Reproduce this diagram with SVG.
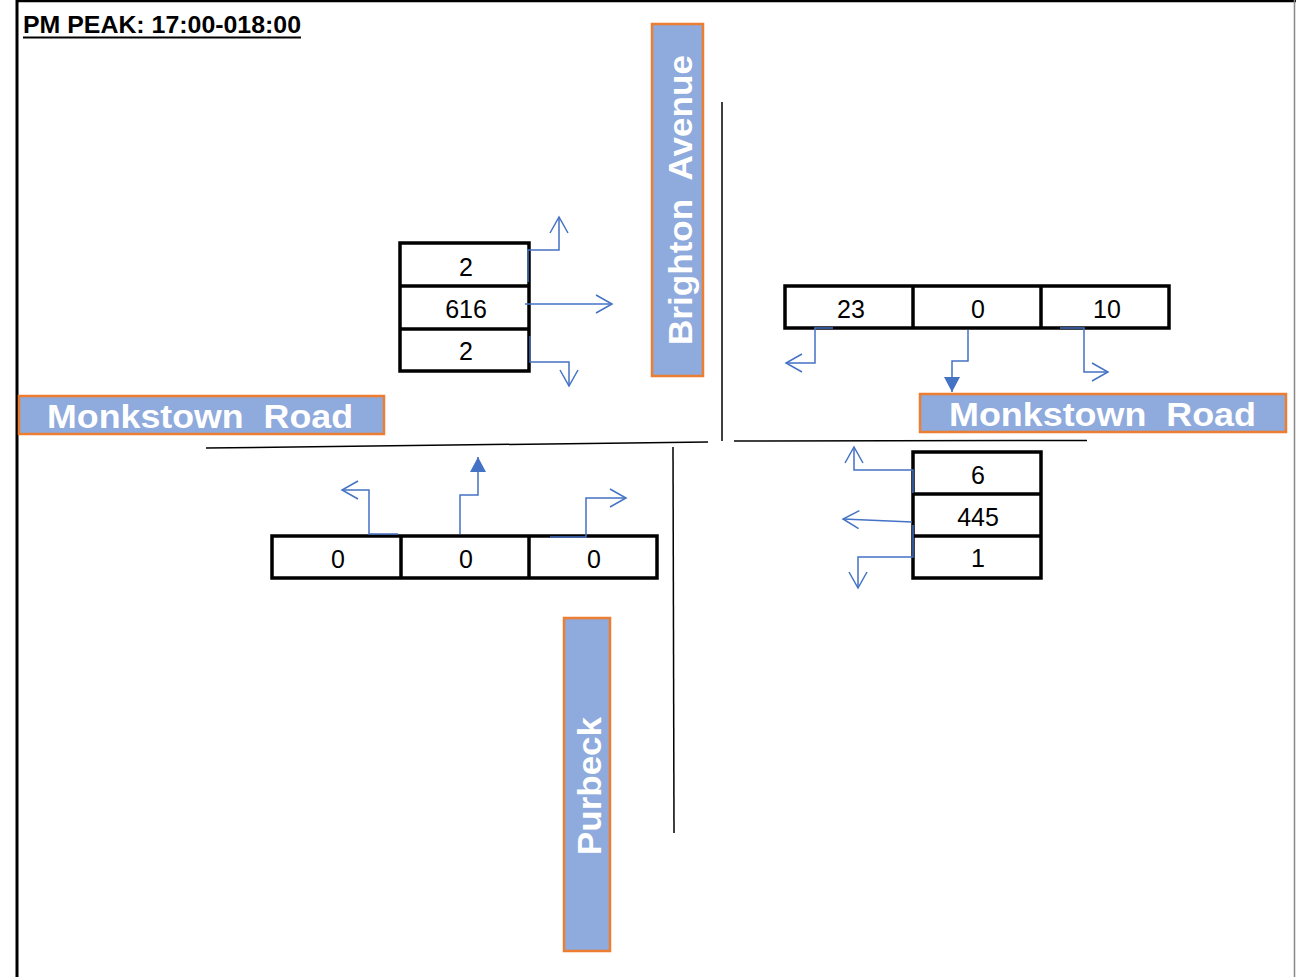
<svg xmlns="http://www.w3.org/2000/svg" width="1296" height="977" viewBox="0 0 1296 977">
<style>
.frame{stroke:#000;fill:none}
.road{stroke:#000;stroke-width:1.5;fill:none}
.lbl{fill:#8FAADC;stroke:#ED7D31;stroke-width:2.5}
.lt{font-family:"Liberation Sans",Arial,sans-serif;font-weight:bold;fill:#fff;font-size:34px;white-space:pre}
.cell{fill:#fff;stroke:#000;stroke-width:3.5}
.num{font-family:"Liberation Sans",Arial,sans-serif;font-size:25px;fill:#000;text-anchor:middle}
.c{fill:none;stroke:#4472C4;stroke-width:1.5}
.o{marker-end:url(#open)}
.f{marker-end:url(#fill)}
</style>
<defs>
<marker id="open" viewBox="0 0 20 20" refX="18" refY="10" markerWidth="20" markerHeight="20" markerUnits="userSpaceOnUse" orient="auto">
<path d="M2,1 L18,10 L2,19" fill="none" stroke="#4472C4" stroke-width="1.5"/>
</marker>
<marker id="fill" viewBox="0 0 16 20" refX="15" refY="10" markerWidth="16" markerHeight="20" markerUnits="userSpaceOnUse" orient="auto">
<path d="M0,2 L15,10 L0,18 Z" fill="#4472C4"/>
</marker>
</defs>
<rect width="1296" height="977" fill="#fff"/>
<g id="frame">
<line class="frame" x1="17" y1="0" x2="17" y2="977" stroke-width="3"/>
<line class="frame" x1="16" y1="1" x2="1296" y2="1" stroke-width="2.5"/>
<line x1="1294.5" y1="0" x2="1294.5" y2="977" stroke="#888" stroke-width="1.5"/>
</g>
<g id="title">
<text x="23" y="33" font-family="'Liberation Sans',Arial,sans-serif" font-weight="bold" font-size="24" textLength="278" lengthAdjust="spacingAndGlyphs" fill="#000">PM PEAK: 17:00-018:00</text>
<line x1="23" y1="37.5" x2="301" y2="37.5" stroke="#000" stroke-width="2"/>
</g>
<g id="roads">
<line class="road" x1="722" y1="102" x2="722" y2="441"/>
<line class="road" x1="206" y1="448" x2="708" y2="442"/>
<line class="road" x1="734" y1="441" x2="1087" y2="440.5"/>
<line class="road" x1="673" y1="447" x2="674" y2="833"/>
</g>
<g id="label-brighton">
<rect class="lbl" x="652" y="24" width="51" height="352"/>
<text class="lt" transform="translate(692,200) rotate(-90)" text-anchor="middle" font-size="36" textLength="290" lengthAdjust="spacingAndGlyphs">Brighton  Avenue</text>
</g>
<g id="label-monkstown-west">
<rect class="lbl" x="19" y="396" width="365" height="38"/>
<text class="lt" x="200" y="428" text-anchor="middle" textLength="306" lengthAdjust="spacingAndGlyphs">Monkstown  Road</text>
</g>
<g id="label-monkstown-east">
<rect class="lbl" x="920" y="394" width="366" height="38"/>
<text class="lt" x="1102.5" y="426" text-anchor="middle" textLength="307" lengthAdjust="spacingAndGlyphs">Monkstown  Road</text>
</g>
<g id="label-purbeck">
<rect class="lbl" x="564" y="618" width="46" height="333"/>
<text class="lt" transform="translate(601,786) rotate(-90)" text-anchor="middle" font-size="36" textLength="138" lengthAdjust="spacingAndGlyphs">Purbeck</text>
</g>
<g id="table-west">
<rect class="cell" x="400" y="243" width="129" height="128"/>
<line class="cell" x1="400" y1="286" x2="529" y2="286"/>
<line class="cell" x1="400" y1="329" x2="529" y2="329"/>
<text class="num" x="466" y="276">2</text>
<text class="num" x="466" y="318">616</text>
<text class="num" x="466" y="360">2</text>
</g>
<g id="table-north">
<rect class="cell" x="785" y="286" width="384" height="42"/>
<line class="cell" x1="913" y1="286" x2="913" y2="328"/>
<line class="cell" x1="1041" y1="286" x2="1041" y2="328"/>
<text class="num" x="851" y="318">23</text>
<text class="num" x="978" y="318">0</text>
<text class="num" x="1107" y="318">10</text>
</g>
<g id="table-east">
<rect class="cell" x="913" y="452" width="128" height="126"/>
<line class="cell" x1="913" y1="494" x2="1041" y2="494"/>
<line class="cell" x1="913" y1="536" x2="1041" y2="536"/>
<text class="num" x="978" y="484">6</text>
<text class="num" x="978" y="526">445</text>
<text class="num" x="978" y="567">1</text>
</g>
<g id="table-south">
<rect class="cell" x="272" y="536" width="385" height="42"/>
<line class="cell" x1="401" y1="536" x2="401" y2="578"/>
<line class="cell" x1="529" y1="536" x2="529" y2="578"/>
<text class="num" x="338" y="568">0</text>
<text class="num" x="466" y="568">0</text>
<text class="num" x="594" y="568">0</text>
</g>
<g id="connectors">
<polyline class="c o" points="528,282 528,250 559,250 559,217"/>
<polyline class="c o" points="525,304 612,304"/>
<polyline class="c o" points="530,336 530,362 569,362 569,386"/>
<polyline class="c o" points="833,328 815,328 815,363 786,363"/>
<polyline class="c f" points="968,330 968,361 952,361 952,392"/>
<polyline class="c o" points="1060,328 1084,328 1084,372 1108,372"/>
<polyline class="c o" points="913,493 913,470 854,470 854,447"/>
<polyline class="c o" points="912,522 843,519"/>
<polyline class="c o" points="913,525 913,557 858,557 858,588"/>
<polyline class="c o" points="398,534 369,534 369,490 342,490"/>
<polyline class="c f" points="460,534 460,495 478,495 478,457"/>
<polyline class="c o" points="550,537 586,537 586,498 626,498"/>
</g>
</svg>
